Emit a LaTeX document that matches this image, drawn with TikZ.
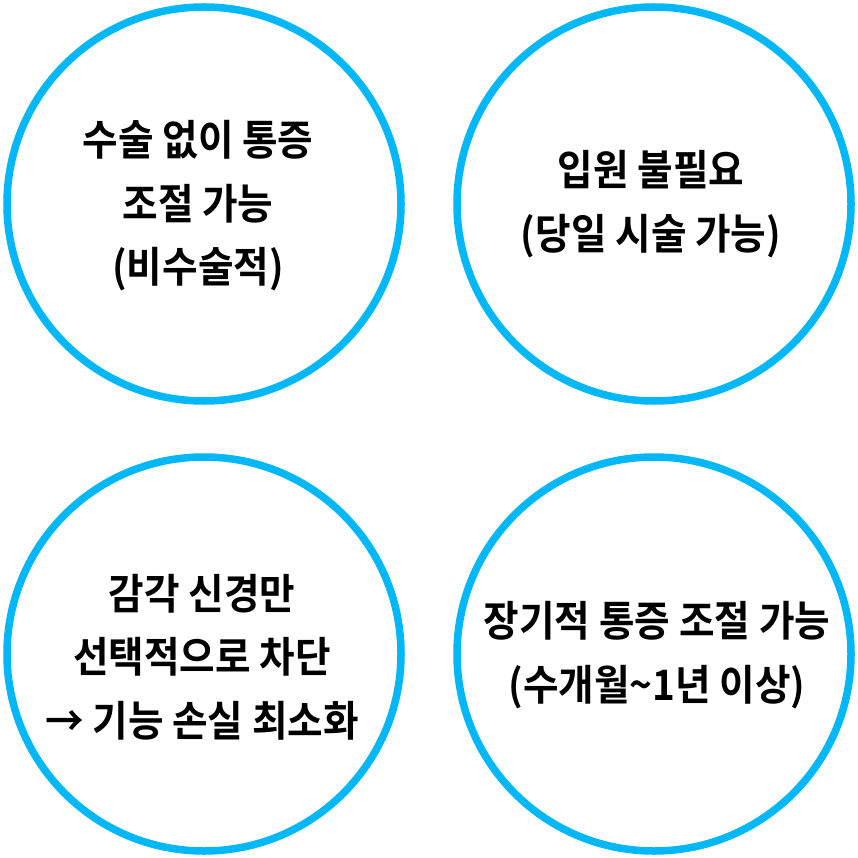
\documentclass[tikz,border=0pt]{standalone}
\usepackage{fontspec}
\newfontfamily\kr{Noto Sans CJK KR}[BoldFont={Noto Sans CJK KR Bold},BoldFeatures={FakeStretch=0.92},FakeStretch=0.92]
\definecolor{ringblue}{HTML}{00B7F7}
\tikzset{
  ring/.style={draw=ringblue, line width=7.5pt, circle, minimum size=394pt, inner sep=0pt},
  label/.style={align=center, font=\kr\bfseries\fontsize{42}{63.5}\selectfont, text=black, inner sep=0pt}
}
\begin{document}
\begin{tikzpicture}[x=1pt,y=-1pt]
\useasboundingbox[fill=white] (0,0) rectangle (858,858);
\node[ring] (c1) at (204,204) {};
\node[ring] (c2) at (654,204) {};
\node[ring] (c3) at (204,654) {};
\node[ring] (c4) at (654,654) {};
\node[label] (t1) at (198,206) {수술 없이 통증\\조절 가능\\(비수술적)};
\node[label] (t2) at (651,204) {입원 불필요\\(당일 시술 가능)};
\node[label] (t3) at (202,657) {감각 신경만\\선택적으로 차단\\→ 기능 손실 최소화};
\node[label] (t4) at (657,655) {장기적 통증 조절 가능\\(수개월\textasciitilde 1년 이상)};
\end{tikzpicture}
\end{document}
